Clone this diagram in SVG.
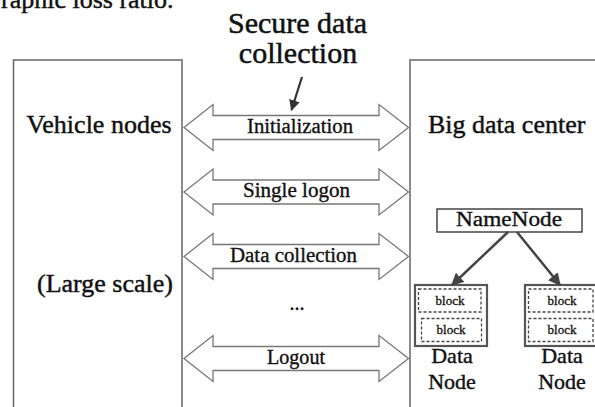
<svg xmlns="http://www.w3.org/2000/svg" width="595" height="407" viewBox="0 0 595 407" font-family="'Liberation Serif', 'DejaVu Serif', serif">
<style>
  text { font-family: 'Liberation Serif', 'Times New Roman', 'DejaVu Serif', serif; fill: #111; stroke: #111; stroke-width: 0.35px; }
  .big { font-size: 30px; text-anchor: middle; stroke-width: 0.5px; }
  .side { font-size: 26px; stroke-width: 0.45px; }
  .lbl { font-size: 20px; text-anchor: middle; }
  .box { fill: #fff; stroke: #666; stroke-width: 1.5; }
  .dbl { fill: #fff; stroke: #777; stroke-width: 1.3; }
  .dn { fill: #fff; stroke: #555; stroke-width: 2.2; }
  .blk { fill: none; stroke: #444; stroke-width: 1.3; stroke-dasharray: 3 2; }
  .blktxt { font-size: 13px; text-anchor: middle; stroke-width: 0.3px; }
  .dntxt { font-size: 22px; text-anchor: middle; stroke-width: 0.4px; }
  .ptr { stroke: #333; stroke-width: 2.2; fill: none; }
  .nn { stroke: #444; stroke-width: 2.5; fill: none; }
</style>
<defs>
  <path id="dblarrow" d="M184,0 L213,-23 L213,-12 L379,-12 L379,-23 L408.5,0 L379,23 L379,12 L213,12 L213,23 Z"/>
  <marker id="ah" viewBox="0 0 10 10" refX="9" refY="5" markerWidth="5" markerHeight="5" orient="auto" markerUnits="strokeWidth">
    <path d="M0,0 L10,5 L0,10 Z" fill="#333"/>
  </marker>
  <marker id="ah2" viewBox="0 0 10 10" refX="9" refY="5" markerWidth="5" markerHeight="5" orient="auto" markerUnits="strokeWidth">
    <path d="M0,0 L10,5 L0,10 Z" fill="#444"/>
  </marker>
</defs>

<text x="1" y="8" class="side">raphic loss ratio.</text>

<g id="title">
  <text x="297.5" y="33" class="big">Secure data</text>
  <text x="298" y="63" class="big">collection</text>
</g>

<g id="vehicle-nodes">
  <rect x="13.5" y="60" width="168.5" height="360" class="box"/>
  <text x="99" y="133" class="side" text-anchor="middle">Vehicle nodes</text>
  <text x="105" y="292" class="side" text-anchor="middle">(Large scale)</text>
</g>

<g id="big-data-center">
  <rect x="410" y="60" width="200" height="360" class="box"/>
  <text x="428" y="133" class="side">Big data center</text>
</g>

<g id="namenode">
  <rect x="437" y="209" width="145" height="23" fill="#fff" stroke="#444" stroke-width="1.5"/>
  <text x="509" y="226" font-size="20" text-anchor="middle" textLength="106" lengthAdjust="spacingAndGlyphs">NameNode</text>
</g>

<g id="datanode-1">
  <rect x="415" y="285" width="72" height="61" class="dn"/>
  <rect x="418.5" y="289" width="62.5" height="23" class="blk"/>
  <text x="450" y="305" class="blktxt">block</text>
  <rect x="421.5" y="318.5" width="60" height="23" class="blk"/>
  <text x="451" y="334" class="blktxt">block</text>
  <text x="452" y="363" class="dntxt">Data</text>
  <text x="452" y="389" class="dntxt">Node</text>
</g>

<g id="datanode-2">
  <rect x="525" y="285" width="72" height="61" class="dn"/>
  <rect x="528.5" y="289" width="64.5" height="23" class="blk"/>
  <text x="562" y="305" class="blktxt">block</text>
  <rect x="528.5" y="318.5" width="64.5" height="23" class="blk"/>
  <text x="562" y="334" class="blktxt">block</text>
  <text x="562" y="363" class="dntxt">Data</text>
  <text x="562" y="389" class="dntxt">Node</text>
</g>

<g id="connectors">
  <use href="#dblarrow" transform="translate(0,127.5)" class="dbl"/>
  <use href="#dblarrow" transform="translate(0,192)" class="dbl"/>
  <use href="#dblarrow" transform="translate(0,256.5)" class="dbl"/>
  <use href="#dblarrow" transform="translate(0,358.5)" class="dbl"/>
  <text x="300" y="132.5" class="lbl" textLength="106" lengthAdjust="spacingAndGlyphs">Initialization</text>
  <text x="296.5" y="197" class="lbl" textLength="107" lengthAdjust="spacingAndGlyphs">Single logon</text>
  <text x="293.5" y="261.5" class="lbl" textLength="127" lengthAdjust="spacingAndGlyphs">Data collection</text>
  <text x="297" y="310" class="lbl">...</text>
  <text x="296" y="363.5" class="lbl" textLength="58" lengthAdjust="spacingAndGlyphs">Logout</text>
  <line x1="302" y1="77" x2="291.5" y2="110" class="ptr" marker-end="url(#ah)"/>
  <line x1="508" y1="232" x2="452" y2="285" class="nn" marker-end="url(#ah2)"/>
  <line x1="517" y1="232" x2="560" y2="285" class="nn" marker-end="url(#ah2)"/>
</g>
</svg>
